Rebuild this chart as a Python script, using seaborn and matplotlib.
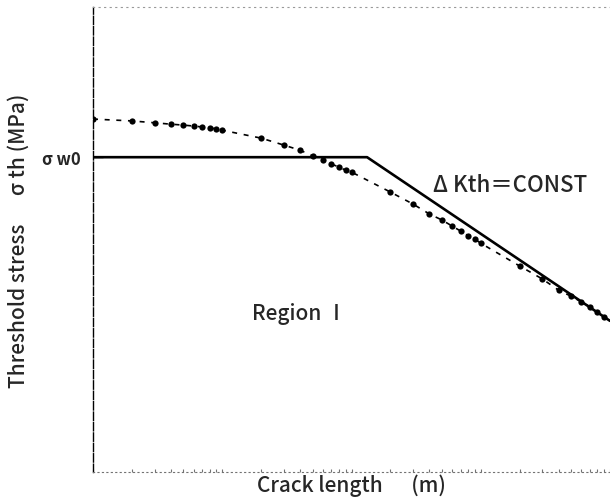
import matplotlib
matplotlib.use("Agg")
import matplotlib.pyplot as plt
import seaborn as sns
import numpy as np
import pandas as pd
from matplotlib.ticker import LogLocator, NullFormatter

# ---- data ----
crack_length_m = [1e-6, 2e-6, 3e-6, 4e-6, 5e-6, 6e-6, 7e-6, 8e-6, 9e-6, 1e-5,
                  2e-5, 3e-5, 4e-5, 5e-5, 6e-5, 7e-5, 8e-5, 9e-5, 1e-4,
                  2e-4, 3e-4, 4e-4, 5e-4, 6e-4, 7e-4, 8e-4, 9e-4, 1e-3,
                  2e-3, 3e-3, 4e-3, 5e-3, 6e-3, 7e-3, 8e-3, 9e-3]
threshold_stress = [75.9, 75.5, 75.1, 74.8, 74.6, 74.4, 74.2, 74.0, 73.8, 73.5,
                    71.8, 70.3, 69.2, 68.0, 67.1, 66.2, 65.6, 64.9, 64.5,
                    60.2, 57.6, 55.5, 54.2, 52.9, 51.8, 50.8, 50.1, 49.2,
                    44.3, 41.5, 39.1, 37.8, 36.6, 35.5, 34.4, 33.3]

limit_x = [1e-6, 1.32e-4, 1e-2]
limit_y = [67.7, 67.7, 32.5]
sigma_w0 = 67.7

sns.set_theme(style="white")
plt.rcParams['font.family'] = ['Noto Sans CJK JP', 'DejaVu Sans']

W = 500  # medium weight

fig = plt.figure(figsize=(6.10, 5.02), dpi=100)
ax = fig.add_axes([93/610, 29/502, 517/610, 465/502])

exp_df = pd.DataFrame({"a": crack_length_m, "s": threshold_stress})
lim_df = pd.DataFrame({"a": limit_x, "s": limit_y})

sns.lineplot(data=exp_df, x="a", y="s", ax=ax, sort=False, color="black",
             linewidth=1.2, linestyle=(0, (3, 4)), marker="o", markersize=4.5,
             markeredgewidth=0)
sns.lineplot(data=lim_df, x="a", y="s", ax=ax, sort=False, color="black",
             linewidth=1.9)

ax.set_xscale("log")
ax.set_xlim(1e-6, 1e-2)
ax.set_ylim(0, 100)

ax.xaxis.set_major_locator(LogLocator(base=10))
ax.xaxis.set_minor_locator(LogLocator(base=10, subs=np.arange(2, 10)))
ax.xaxis.set_minor_formatter(NullFormatter())
ax.tick_params(axis="x", which="both", direction="in", length=2, width=0.8,
               color="0.45", labelbottom=False, bottom=True)

ax.set_yticks([sigma_w0])
ax.set_yticklabels(["σ w0"], fontsize=12, fontweight="bold")
ax.tick_params(axis="y", which="major", direction="in", length=7, width=1,
               color="black", pad=9, left=True)

ax.spines["right"].set_visible(False)
ax.spines["left"].set_linestyle((0, (6, 1.5)))
ax.spines["left"].set_color("black")
ax.spines["left"].set_linewidth(1.0)
ax.spines["bottom"].set_linestyle((0, (1, 3)))
ax.spines["bottom"].set_color("0.45")
ax.spines["bottom"].set_linewidth(0.8)
ax.spines["top"].set_linestyle((0, (1, 4)))
ax.spines["top"].set_color("0.6")
ax.spines["top"].set_linewidth(0.8)

ax.set_xlabel("Crack length      (m)", fontsize=15, fontweight=W, labelpad=1)
ax.set_ylabel("Threshold stress      σ th (MPa)", fontsize=15, fontweight=W)
ax.yaxis.set_label_coords(-0.122, 0.5)

ax.text(10**(-3.37), 61.9, "Δ Kth＝CONST", fontsize=16, fontweight=W,
        ha="left", va="center")
ax.text(10**(-4.77), 34.2, "Region Ⅰ", fontsize=15, fontweight=W,
        ha="left", va="center")

fig.savefig("out.png", dpi=100)
